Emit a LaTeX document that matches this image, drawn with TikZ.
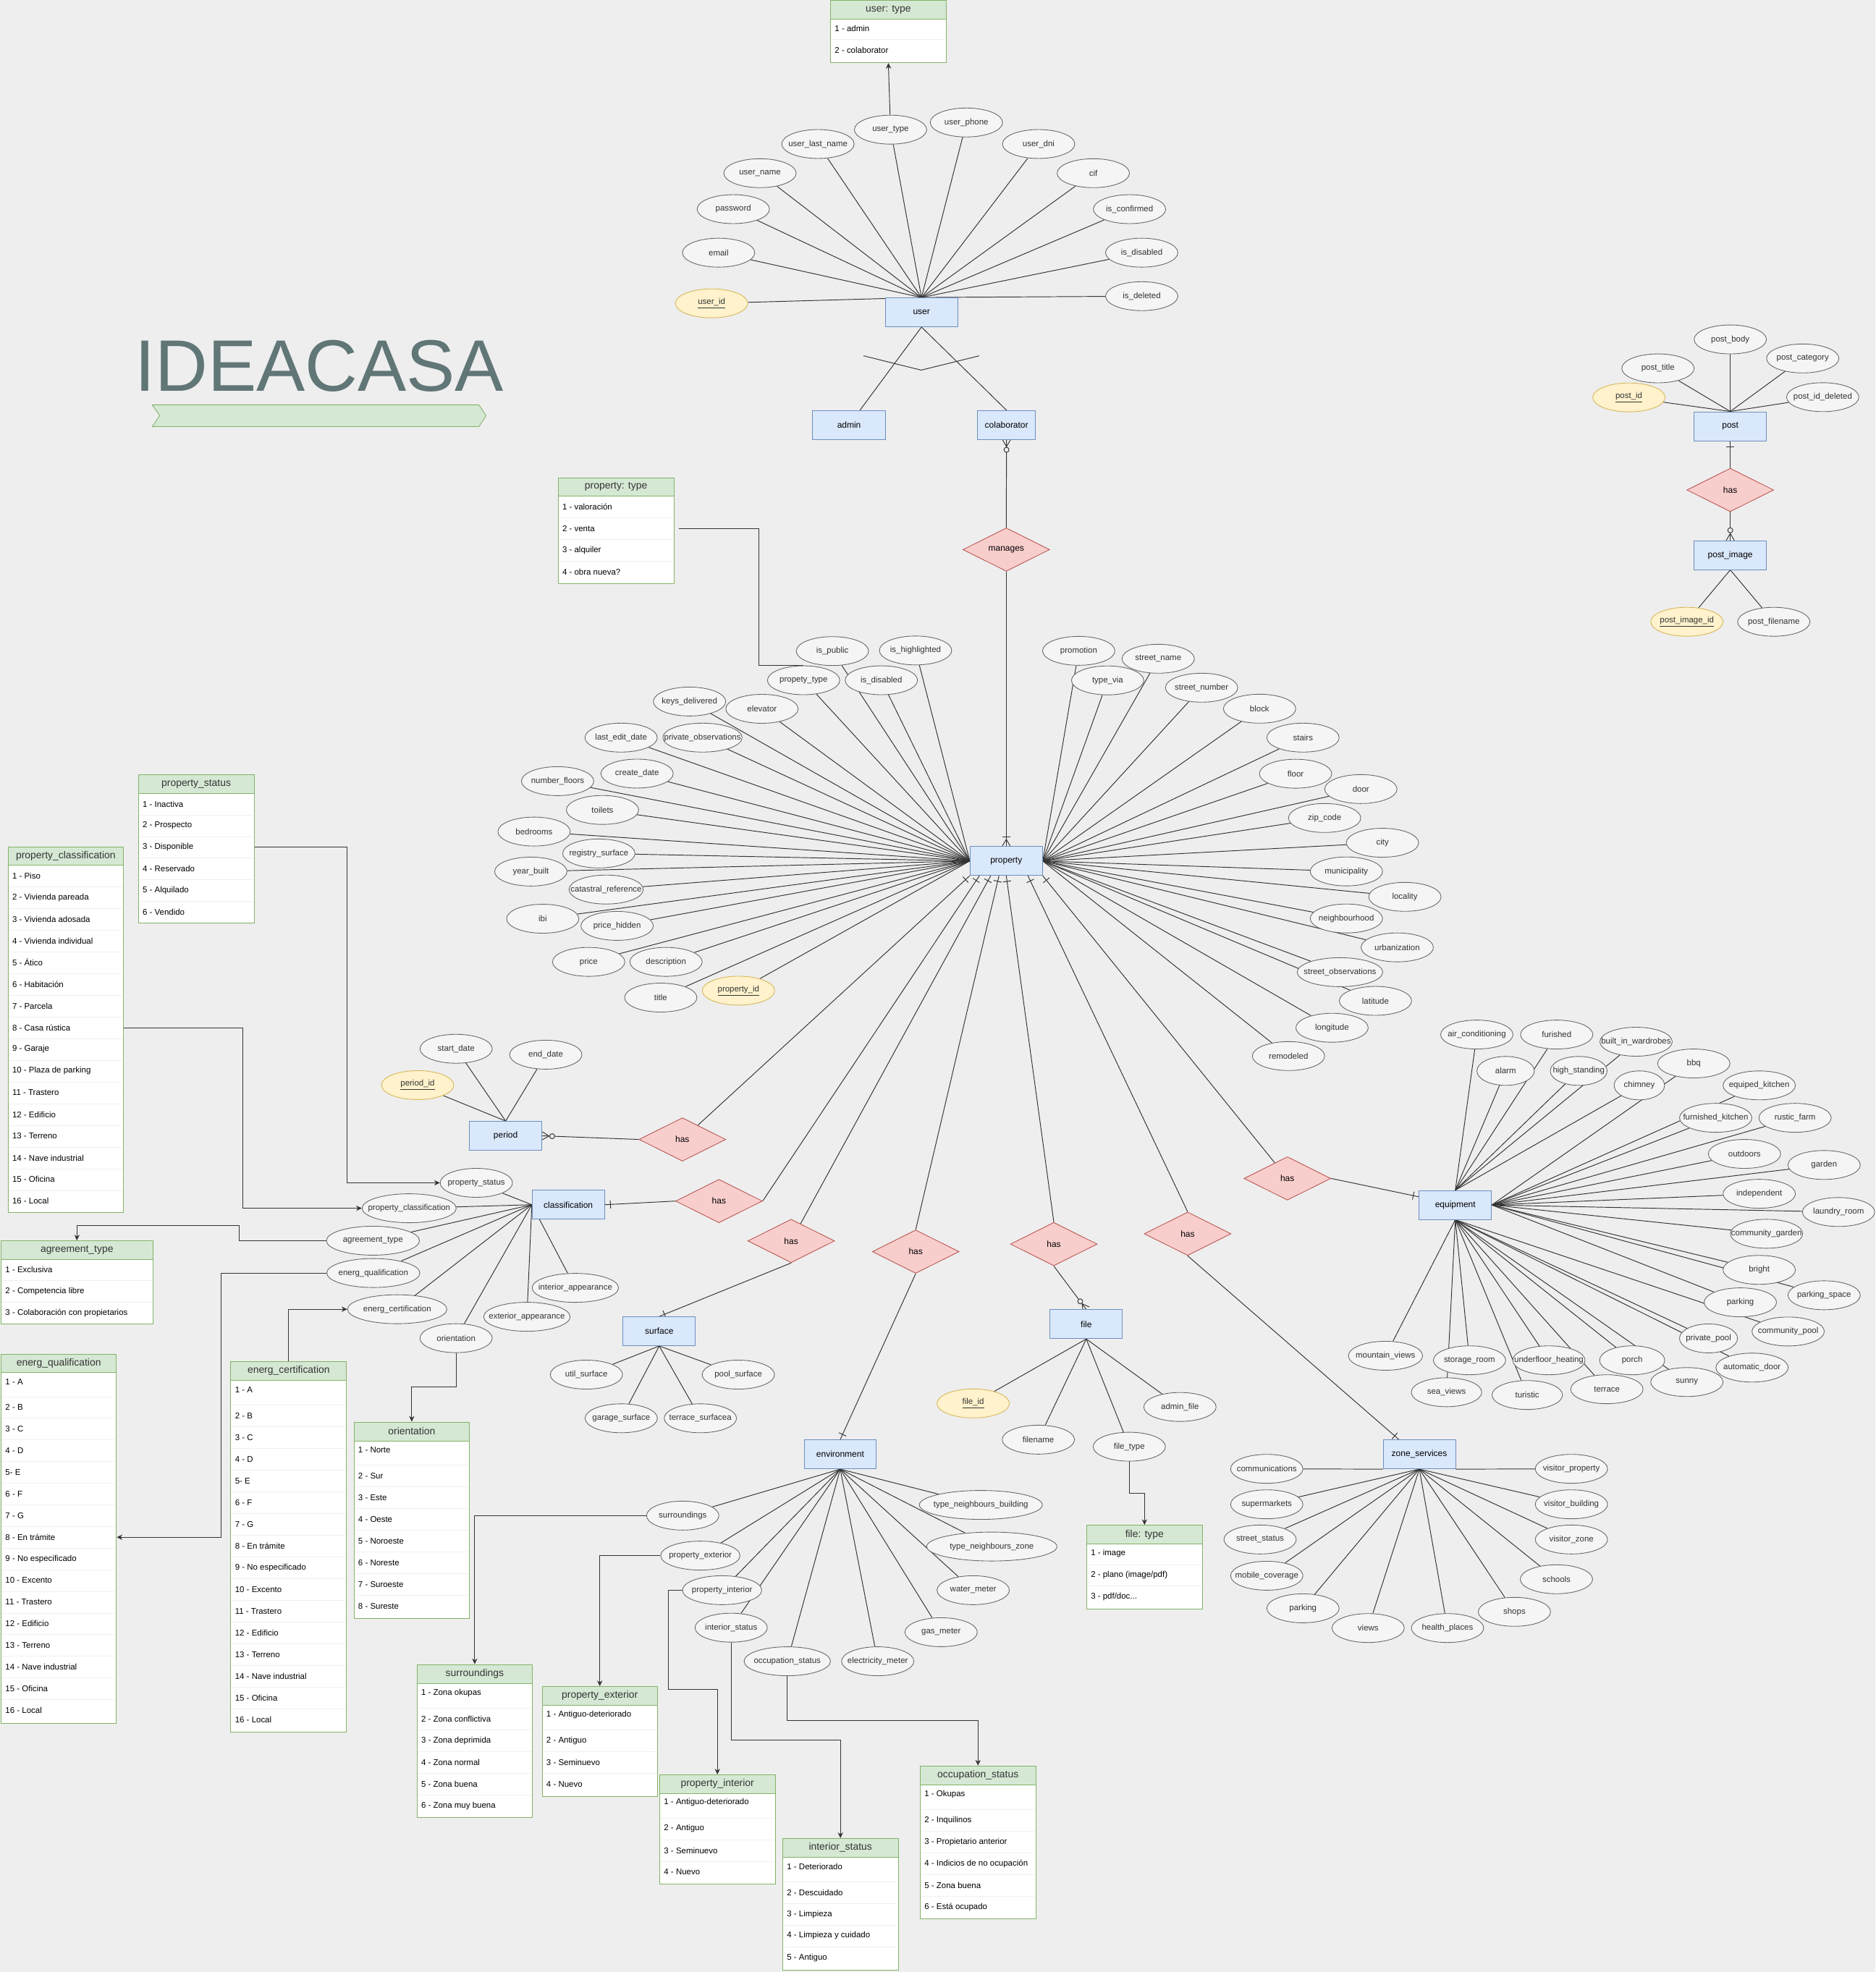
\documentclass[tikz,border=0pt]{standalone}
\usepackage{fontspec}
\setmainfont{Liberation Sans}
\usetikzlibrary{shapes.geometric,arrows.meta,decorations.markings}
\definecolor{bg}{HTML}{EEEEEE}
\definecolor{entf}{HTML}{DAE8FC}
\definecolor{entd}{HTML}{6C8EBF}
\definecolor{relf}{HTML}{F8CECC}
\definecolor{reld}{HTML}{B85450}
\definecolor{attf}{HTML}{F5F5F5}
\definecolor{attd}{HTML}{666666}
\definecolor{keyf}{HTML}{FFF2CC}
\definecolor{keyd}{HTML}{D6B656}
\definecolor{tabf}{HTML}{D5E8D4}
\definecolor{tabd}{HTML}{82B366}
\definecolor{titlec}{HTML}{617676}
\definecolor{txt}{HTML}{333333}
\definecolor{lnc}{HTML}{333333}
\pgfdeclarelayer{bgl}
\pgfdeclarelayer{edges}
\pgfsetlayers{bgl,edges,main}
\tikzset{
  attr/.style={ellipse, draw=attd, fill=attf, minimum height=23pt, inner sep=0pt, line width=0.5pt},
  kattr/.style={attr, draw=keyd, fill=keyf},
  atxt/.style={font=\fontsize{6.6}{7.5}\selectfont, text=txt, inner sep=0pt},
  ent/.style={rectangle, draw=entd, fill=entf, minimum width=57.5pt, minimum height=23pt, inner sep=0pt, font=\fontsize{6.9}{8}\selectfont, line width=0.5pt},
  rel/.style={diamond, draw=reld, fill=relf, minimum width=69pt, minimum height=34.5pt, inner sep=0pt, font=\fontsize{6.9}{8}\selectfont, line width=0.5pt},
  thead/.style={rectangle, draw=tabd, fill=tabf, inner sep=0pt, font=\fontsize{8}{9}\selectfont, text=txt, line width=0.5pt},
  tbody/.style={rectangle, draw=tabd, fill=white, inner sep=0pt, line width=0.5pt},
  trow/.style={inner sep=0pt, font=\fontsize{6.6}{7.5}\selectfont, text=black},
  tsep/.style={draw=black!6, line width=0.4pt},
  ln/.style={draw=lnc, line width=0.55pt},
  arr/.style={ln, -{Stealth[length=4.5pt,width=4.2pt]}},
  mk/.style={draw=lnc, line width=0.55pt},
  erone/.style={postaction={decorate,decoration={markings,
     mark=at position -4.5pt with {\draw[mk] (0pt,-3.2pt) -- (0pt,3.2pt);}}}},
  ermanyz/.style={postaction={decorate,decoration={markings,
     mark=at position -8pt with {\draw[mk,fill=bg] (0pt,0pt) circle (2pt);},
     mark=at position -0.01pt with {\draw[mk] (-5.5pt,0pt) -- (0pt,3.2pt) (-5.5pt,0pt) -- (0pt,-3.2pt);}}}},
  ermanyo/.style={postaction={decorate,decoration={markings,
     mark=at position -7.5pt with {\draw[mk] (0pt,-3.2pt) -- (0pt,3.2pt);},
     mark=at position -0.01pt with {\draw[mk] (-5.5pt,0pt) -- (0pt,3.2pt) (-5.5pt,0pt) -- (0pt,-3.2pt);}}}},
}
\newcommand\att[5][57.5]{\node[attr, minimum width=#1pt, label={[atxt]center:#5}] (#2) at (#3,#4) {};}
\newcommand\katt[5][57.5]{\node[kattr, minimum width=#1pt, label={[atxt]center:\underline{#5}}] (#2) at (#3,#4) {};}
\newcommand\dtable[7]{%
  \node[thead, anchor=north west, minimum width=#4pt, minimum height={(#5-#3)*1pt}] (#1-h) at (#2,#3) {#7};
  \node[tbody, anchor=north west, minimum width=#4pt, minimum height={(#6-#5)*1pt}] (#1-b) at (#2,#5) {};}
\newcommand\drows[4]{%
  \foreach[count=\i] \yy/\tx in {#4} {%
    \node[trow, anchor=west] (#1-\i) at (#2+3.5,\yy) {\tx};
    \ifnum\i>1 \draw[tsep] (#2+0.6,\yy-8.6) -- (#2+#3-0.6,\yy-8.6);\fi
  }}
\begin{document}
\begin{tikzpicture}[x=1pt,y=-1pt]
\useasboundingbox (0,0) rectangle (1491,1568);
\begin{pgfonlayer}{bgl}
\fill[bg] (0,0) rectangle (1491,1568);
\end{pgfonlayer}

% ---------- title ----------
\node[font=\fontsize{58}{60}\selectfont, text=titlec, anchor=base west, inner sep=0pt] (title) at (107.1,310.8) {IDEACASA};
\draw[draw=tabd, fill=tabf, line width=0.5pt] (121,321.9) -- (380.8,321.9) -- (386.4,330.5) -- (380.8,339.2) -- (121,339.2) -- (127,330.5) -- cycle;

% ---------- tables ----------
\dtable{ut}{660}{0}{92}{15.2}{49.6}{user: type}
\drows{ut}{660}{92}{22.8/{1 - admin}, 40/{2 - colaborator}}
\dtable{pt}{443.4}{379.5}{92.2}{394.4}{463.6}{property: type}
\drows{pt}{443.4}{92.2}{403.1/{1 - valoración}, 420.4/{2 - venta}, 437.6/{3 - alquiler}, 454.9/{4 - obra nueva?}}
\dtable{ps}{109.7}{615.9}{92.1}{630.7}{733.9}{property\_status}
\drows{ps}{109.7}{92.1}{639.3/{1 - Inactiva}, 656.5/{2 - Prospecto}, 673.7/{3 - Disponible}, 690.9/{4 - Reservado}, 708.1/{5 - Alquilado}, 725.3/{6 - Vendido}}
\dtable{pc}{6.1}{673}{91.9}{687.7}{963.7}{property\_classification}
\drows{pc}{6.1}{91.9}{696.3/{1 - Piso}, 713.6/{2 - Vivienda pareada}, 730.8/{3 - Vivienda adosada}, 748.1/{4 - Vivienda individual}, 765.3/{5 - Ático}, 782.6/{6 - Habitación}, 799.8/{7 - Parcela}, 817.1/{8 - Casa rústica}, 834.3/{9 - Garaje}, 851.6/{10 - Plaza de parking}, 868.8/{11 - Trastero}, 886.1/{12 - Edificio}, 903.3/{13 - Terreno}, 920.6/{14 - Nave industrial}, 937.8/{15 - Oficina}, 955.1/{16 - Local}}
\dtable{agt}{0.6}{986.3}{120.6}{1001.1}{1052.7}{agreement\_type}
\drows{agt}{0.6}{120.6}{1009.7/{1 - Exclusiva}, 1026.9/{2 - Competencia libre}, 1044.1/{3 - Colaboración con propietarios}}
\dtable{eq}{0.6}{1076.3}{91.7}{1091.1}{1370}{energ\_qualification}
\drows{eq}{0.6}{91.7}{1098.5/{1 - A}, 1119.1/{2 - B}, 1136.3/{3 - C}, 1153.5/{4 - D}, 1170.7/{5- E}, 1187.9/{6 - F}, 1205.1/{7 - G}, 1222.3/{8 - En trámite}, 1239.5/{9 - No especificado}, 1256.7/{10 - Excento}, 1273.9/{11 - Trastero}, 1291.1/{12 - Edificio}, 1308.3/{13 - Terreno}, 1325.5/{14 - Nave industrial}, 1342.7/{15 - Oficina}, 1359.9/{16 - Local}}
\dtable{ec}{183.2}{1082.3}{92.1}{1097.1}{1377.2}{energ\_certification}
\drows{ec}{183.2}{92.1}{1105.3/{1 - A}, 1125.9/{2 - B}, 1143.2/{3 - C}, 1160.4/{4 - D}, 1177.7/{5- E}, 1194.9/{6 - F}, 1212.2/{7 - G}, 1229.4/{8 - En trámite}, 1246.7/{9 - No especificado}, 1263.9/{10 - Excento}, 1281.2/{11 - Trastero}, 1298.5/{12 - Edificio}, 1315.7/{13 - Terreno}, 1333.0/{14 - Nave industrial}, 1350.2/{15 - Oficina}, 1367.5/{16 - Local}}
\dtable{ori}{281.1}{1130.4}{92}{1145.4}{1286.8}{orientation}
\drows{ori}{281.1}{92}{1153/{1 - Norte}, 1173.6/{2 - Sur}, 1190.9/{3 - Este}, 1208.1/{4 - Oeste}, 1225.4/{5 - Noroeste}, 1242.6/{6 - Noreste}, 1259.9/{7 - Suroeste}, 1277.2/{8 - Sureste}}
\dtable{su}{331.2}{1323.2}{91.9}{1338.2}{1445}{surroundings}
\drows{su}{331.2}{91.9}{1346/{1 - Zona okupas}, 1366.8/{2 - Zona conflictiva}, 1384/{3 - Zona deprimida}, 1401.3/{4 - Zona normal}, 1418.5/{5 - Zona buena}, 1435.8/{6 - Zona muy buena}}
\dtable{pe}{430.7}{1340.7}{91.8}{1355.4}{1428}{property\_exterior}
\drows{pe}{430.7}{91.8}{1363.3/{1 - Antiguo-deteriorado}, 1384/{2 - Antiguo}, 1401.3/{3 - Seminuevo}, 1418.5/{4 - Nuevo}}
\dtable{pi}{524.2}{1410.9}{91.8}{1425.7}{1498}{property\_interior}
\drows{pi}{524.2}{91.8}{1433.3/{1 - Antiguo-deteriorado}, 1454/{2 - Antiguo}, 1471.3/{3 - Seminuevo}, 1488.6/{4 - Nuevo}}
\dtable{ist}{622}{1461.5}{91.8}{1476.3}{1566.2}{interior\_status}
\drows{ist}{622}{91.8}{1484/{1 - Deteriorado}, 1504.7/{2 - Descuidado}, 1522/{3 - Limpieza}, 1539.2/{4 - Limpieza y cuidado}, 1556.5/{5 - Antiguo}}
\dtable{os}{731.3}{1403.8}{91.9}{1418.8}{1525.6}{occupation\_status}
\drows{os}{731.3}{91.9}{1426.6/{1 - Okupas}, 1447.3/{2 - Inquilinos}, 1464.6/{3 - Propietario anterior}, 1481.8/{4 - Indicios de no ocupación}, 1499.1/{5 - Zona buena}, 1516.4/{6 - Está ocupado}}
\dtable{ft}{863.6}{1212.5}{92.1}{1227.2}{1279.3}{file: type}
\drows{ft}{863.6}{92.1}{1235.4/{1 - image}, 1252.6/{2 - plano (image/pdf)}, 1269.8/{3 - pdf/doc...}}

% ---------- user ----------
\node[ent] (user) at (732.6,248.3) {user};
\node[ent, minimum width=57.8pt] (admin) at (675,337.9) {admin};
\node[ent, minimum width=46pt] (colab) at (800.2,337.9) {colaborator};
\att{a-email}{571.3}{200.9}{email}
\att{a-pass}{583}{166.3}{password}
\att{a-uname}{604.2}{137.7}{user\_name}
\att{a-ulast}{650.3}{114.5}{user\_last\_name}
\att{a-utype}{708}{103.1}{user\_type}
\att{a-uphone}{768.3}{97.4}{user\_phone}
\att{a-udni}{825.7}{114.5}{user\_dni}
\att{a-cif}{869.2}{137.7}{cif}
\att{a-iscon}{898}{166.3}{is\_confirmed}
\att{a-isdis}{907.7}{200.9}{is\_disabled}
\att{a-isdel}{907.7}{235.5}{is\_deleted}
\katt{k-uid}{565.7}{241.2}{user\_id}

% ---------- post ----------
\node[ent] (post) at (1375.6,338.9) {post};
\node[rel] (posthas) at (1375.6,389.6) {has};
\node[ent] (postimg) at (1375.6,441.4) {post\_image};
\att{a-pbody}{1375.6}{269.9}{post\_body}
\att{a-ptitle}{1318.1}{292.9}{post\_title}
\att{a-pcat}{1433.2}{285}{post\_category}
\katt{k-pid}{1295}{316}{post\_id}
\att{a-pdel}{1449.1}{315.8}{post\_id\_deleted}
\katt{k-piid}{1341.1}{494.4}{post\_image\_id}
\att{a-pfile}{1410.2}{494.4}{post\_filename}

% ---------- property ----------
\node[ent] (prop) at (800,684.6) {property};
\node[rel] (manages) at (800,437) {manages};
\att{p-ispub}{661.8}{517.7}{is\_public}
\att{p-ishigh}{727.9}{517.2}{is\_highlighted}
\att{p-ptype}{638.9}{540.9}{propety\_type}
\att{p-isdis}{700.7}{540.9}{is\_disabled}
\att{p-keys}{548.2}{557.8}{keys\_delivered}
\att{p-elev}{605.8}{563.6}{elevator}
\att{p-lastedit}{493.8}{586.5}{last\_edit\_date}
\att[63]{p-privobs}{558.5}{586.5}{private\_observations}
\att{p-create}{506.5}{615.1}{create\_date}
\att{p-nfloors}{443.3}{621.1}{number\_floors}
\att{p-toilets}{479}{644}{toilets}
\att{p-bedrooms}{424.6}{661.2}{bedrooms}
\att{p-regsurf}{476.1}{678.6}{registry\_surface}
\att{p-year}{422}{693}{year\_built}
\att[59]{p-catast}{481.9}{707.3}{catastral\_reference}
\att{p-ibi}{431.5}{730.5}{ibi}
\att{p-phidden}{490.6}{736.2}{price\_hidden}
\att{p-price}{468}{764.8}{price}
\att{p-desc}{529.5}{764.8}{description}
\att{p-title}{525.3}{793.2}{title}
\katt{k-propid}{587.1}{787.7}{property\_id}
\att{p-promo}{857.6}{517.5}{promotion}
\att{p-stname}{920.8}{523.8}{street\_name}
\att{p-tvia}{880.6}{541}{type\_via}
\att{p-stnum}{955.3}{546.8}{street\_number}
\att{p-block}{1001.4}{563.5}{block}
\att{p-stairs}{1035.9}{586.5}{stairs}
\att{p-floor}{1030}{615.2}{floor}
\att{p-door}{1081.9}{627.4}{door}
\att{p-zip}{1053.1}{650.4}{zip\_code}
\att{p-city}{1099.1}{670.1}{city}
\att{p-muni}{1070.4}{692.9}{municipality}
\att{p-local}{1116.9}{713.1}{locality}
\att{p-neigh}{1070.4}{730.3}{neighbourhood}
\att{p-urban}{1110.8}{753.3}{urbanization}
\att[68]{p-stobs}{1065.3}{773}{street\_observations}
\att{p-lat}{1093.5}{795.8}{latitude}
\att{p-lon}{1059}{817.2}{longitude}
\att{p-remod}{1024.4}{839.7}{remodeled}

% ---------- period ----------
\node[ent] (period) at (402,903.1) {period};
\node[rel] (has1) at (542.5,906) {has};
\att{a-start}{362.6}{833.9}{start\_date}
\att{a-end}{433.9}{838.6}{end\_date}
\katt{k-perid}{332}{862.8}{period\_id}

% ---------- classification ----------
\node[ent] (classif) at (451.8,957.9) {classification};
\node[rel] (has2) at (571.6,955) {has};
\att{c-pstatus}{378.7}{940.5}{property\_status}
\att[74.8]{c-pclass}{325.3}{960.7}{property\_classification}
\att[74]{c-agree}{296.5}{986.5}{agreement\_type}
\att[74]{c-energq}{296.8}{1012.2}{energ\_qualification}
\att[79]{c-energc}{315.8}{1041}{energ\_certification}
\att{c-orient}{362.6}{1064}{orientation}
\att[68.7]{c-intapp}{457.4}{1024}{interior\_appearance}
\att[68.7]{c-extapp}{418.9}{1047}{exterior\_appearance}

% ---------- surface ----------
\node[ent] (surface) at (524.1,1058.5) {surface};
\node[rel] (has3) at (629,986.7) {has};
\att{s-util}{466.2}{1093}{util\_surface}
\att{s-pool}{587}{1093}{pool\_surface}
\att{s-garage}{493.9}{1127.7}{garage\_surface}
\att{s-terrace}{556.8}{1127.7}{terrace\_surfacea}

% ---------- environment ----------
\node[ent] (env) at (668,1156.4) {environment};
\node[rel] (has4) at (728,995.2) {has};
\att{e-surr}{542.8}{1205.1}{surroundings}
\att[97.8]{e-tnb}{779.8}{1196.6}{type\_neighbours\_building}
\att[103.6]{e-tnz}{788.5}{1229.7}{type\_neighbours\_zone}
\att[63]{e-pext}{556.8}{1236.9}{property\_exterior}
\att[63]{e-pint}{574.1}{1264.4}{property\_interior}
\att{e-water}{773.7}{1264.4}{water\_meter}
\att{e-intst}{581.3}{1294.2}{interior\_status}
\att{e-gas}{748.2}{1297.8}{gas\_meter}
\att[68.7]{e-occ}{625.9}{1320.9}{occupation\_status}
\att{e-elec}{697.8}{1320.9}{electricity\_meter}

% ---------- file ----------
\node[ent] (file) at (863.6,1052.9) {file};
\node[rel] (has5) at (837.8,989.2) {has};
\katt{k-fileid}{773.7}{1115.9}{file\_id}
\att{f-fname}{825.5}{1144.7}{filename}
\att{f-ftype}{897.8}{1150.3}{file\_type}
\att{f-admin}{938.1}{1118.7}{admin\_file}

% ---------- zone services ----------
\node[ent] (zone) at (1128.4,1156.4) {zone\_services};
\node[rel] (has6) at (944.2,981) {has};
\att{z-comm}{1007.1}{1167.9}{communications}
\att{z-vprop}{1249.3}{1167.9}{visitor\_property}
\att{z-super}{1007.1}{1196.1}{supermarkets}
\att{z-vbuild}{1249.3}{1196.1}{visitor\_building}
\att{z-street}{1001.8}{1224.1}{street\_status}
\att{z-vzone}{1249.3}{1224.1}{visitor\_zone}
\att{z-mobile}{1007.1}{1252.9}{mobile\_coverage}
\att{z-schools}{1237.4}{1255.7}{schools}
\att{z-parking}{1035.9}{1278.8}{parking}
\att{z-shops}{1204}{1281.6}{shops}
\att{z-views}{1087.7}{1294.5}{views}
\att{z-health}{1150.8}{1294.5}{health\_places}

% ---------- equipment ----------
\node[ent] (equip) at (1157,958.1) {equipment};
\node[rel] (has7) at (1023.5,937) {has};
\att{q-air}{1174.1}{822.6}{air\_conditioning}
\att{q-furn}{1237.6}{822.6}{furished}
\att{q-built}{1300.7}{828.3}{built\_in\_wardrobes}
\att[45.6]{q-alarm}{1197}{851.5}{alarm}
\att[45.2]{q-high}{1255.1}{851.5}{high\_standing}
\att{q-bbq}{1346.6}{845.6}{bbq}
\att[40.1]{q-chim}{1303.3}{863}{chimney}
\att{q-eqk}{1398.6}{863}{equiped\_kitchen}
\att{q-fk}{1364}{888.8}{furnished\_kitchen}
\att{q-rustic}{1427.1}{888.8}{rustic\_farm}
\att{q-out}{1386.9}{917.5}{outdoors}
\att{q-garden}{1450.2}{926.3}{garden}
\att{q-indep}{1398.6}{949.2}{independent}
\att{q-laundry}{1461.7}{963.7}{laundry\_room}
\att{q-cgarden}{1404.4}{981}{community\_garden}
\att{q-bright}{1398.6}{1009.7}{bright}
\att{q-pspace}{1450.2}{1029.9}{parking\_space}
\att{q-parking}{1383.6}{1035.5}{parking}
\att{q-cpool}{1421.6}{1058.7}{community\_pool}
\att[46.1]{q-ppool}{1358.3}{1064.2}{private\_pool}
\att{q-auto}{1392.9}{1087.4}{automatic\_door}
\att{q-sunny}{1341.1}{1098.9}{sunny}
\att[51.8]{q-porch}{1297.6}{1081.6}{porch}
\att{q-terrace}{1277.5}{1104.6}{terrace}
\att{q-under}{1231.4}{1081.6}{underfloor\_heating}
\att[56]{q-turistic}{1214.2}{1109.2}{turistic}
\att{q-storage}{1168.3}{1081.6}{storage\_room}
\att[56]{q-sea}{1150}{1107}{sea\_views}
\att[59]{q-mount}{1101.5}{1078}{mountain\_views}

% ---------- edges ----------
\begin{pgfonlayer}{edges}
\foreach \n in {a-email,a-pass,a-uname,a-ulast,a-utype,a-uphone,a-udni,a-cif,a-iscon,a-isdis,a-isdel,k-uid}
  \draw[ln] (\n) -- (user.north);
\draw[arr] (a-utype) -- (ut-b.south);
\draw[ln] (user.south) -- ([xshift=8.7pt]admin.north);
\draw[ln] (user.south) -- (colab.north);
\draw[ln] (686.5,282.9) -- (732.3,294.3) -- (778.6,282.9);
\draw[ln,ermanyz] (manages.north) -- (colab.south);
\draw[ln,ermanyo] (manages.south) -- (prop.north);

\foreach \n in {a-pbody,a-ptitle,a-pcat,k-pid,a-pdel}
  \draw[ln] (\n) -- (post.north);
\draw[ln,erone] (posthas.north) -- (post.south);
\draw[ln,ermanyz] (posthas.south) -- (postimg.north);
\draw[ln] (k-piid) -- (postimg.south);
\draw[ln] (a-pfile) -- (postimg.south);

\foreach \n in {p-ispub,p-ishigh,p-ptype,p-isdis,p-keys,p-elev,p-lastedit,p-privobs,p-create,p-nfloors,p-toilets,p-bedrooms,p-regsurf,p-year,p-catast,p-ibi,p-phidden,p-price,p-desc,p-title,k-propid}
  \draw[ln] (\n) -- (prop.west);
\foreach \n in {p-promo,p-stname,p-tvia,p-stnum,p-block,p-stairs,p-floor,p-door,p-zip,p-city,p-muni,p-local,p-neigh,p-urban,p-stobs,p-lat,p-lon,p-remod}
  \draw[ln] (\n) -- (prop.east);
\draw[ln] (540,420.4) -- (603.2,420.4) |- (p-ptype.north);

% relations to property
\draw[ln,erone] (has1) -- (prop.south west);
\draw[ln,ermanyz] (has1.west) -- (period.east);
\draw[ln,erone] (has2.east) -- ([xshift=7.6pt]prop.south west);
\draw[ln,erone] (has2.west) -- (classif.east);
\draw[ln,erone] (has3) -- ([xshift=16.6pt]prop.south west);
\draw[ln,erone] (has3.south) -- (surface.north);
\draw[ln,erone] (has4.north) -- ([xshift=-5.8pt]prop.south);
\draw[ln,erone] (has4.south) -- (env.north);
\draw[ln,erone] (has5.north) -- (prop.south);
\draw[ln,ermanyz] (has5.south) -- (file.north);
\draw[ln,erone] (has6.north) -- ([xshift=17.2pt]prop.south);
\draw[ln,erone] (has6.south) -- ([xshift=-16.2pt]zone.north);
\draw[ln,erone] (has7) -- (prop.south east);
\draw[ln,erone] (has7.east) -- ([yshift=6.5pt]equip.west);

% period
\foreach \n in {a-start,a-end,k-perid}
  \draw[ln] (\n) -- (period.north);
% classification
\foreach \n in {c-pstatus,c-pclass,c-agree,c-energq,c-energc,c-orient,c-intapp,c-extapp}
  \draw[ln] (\n) -- (classif.west);
\draw[arr] (ps-b.east |- ps-3) -- (276,673.7) |- (c-pstatus.west);
\draw[arr] (pc-b.east |- pc-8) -- (193.1,817.1) |- (c-pclass.west);
\draw[arr] (c-agree.west) -| (190,974.5) -| (agt-h.north);
\draw[arr] (c-energq.west) -- (175.7,1012.2) |- (eq-b.east |- eq-8);
\draw[arr] (ec-h.north) |- (c-energc.west);
\draw[arr] (c-orient.south) -- (362.6,1102.9) -| (ori-h.north);
% surface
\foreach \n in {s-util,s-pool,s-garage,s-terrace}
  \draw[ln] (\n) -- (surface.south);
% environment
\foreach \n in {e-surr,e-tnb,e-tnz,e-pext,e-pint,e-water,e-intst,e-gas,e-occ,e-elec}
  \draw[ln] (\n) -- (env.south);
\draw[arr] (e-surr.west) -| (su-h.north);
\draw[arr] (e-pext.west) -| (pe-h.north);
\draw[arr] (e-pint.west) -| (531.3,1343.2) -| (pi-h.north);
\draw[arr] (e-intst.south) -- (581.3,1383.8) -| (ist-h.north);
\draw[arr] (e-occ.south) -- (625.9,1368.1) -| (os-h.north);
% file
\foreach \n in {k-fileid,f-fname,f-ftype,f-admin}
  \draw[ln] (\n) -- (file.south);
\draw[arr] (f-ftype.south) -- (897.8,1187.1) -| (ft-h.north);
% zone
\draw[ln] (z-comm) -- (zone.south west);
\draw[ln] (z-vprop) -- (zone.south east);
\foreach \n in {z-super,z-vbuild,z-street,z-vzone,z-mobile,z-schools,z-parking,z-shops,z-views,z-health}
  \draw[ln] (\n) -- (zone.south);
% equipment
\foreach \n in {q-air,q-furn,q-built,q-alarm,q-high,q-chim}
  \draw[ln] (\n) -- (equip.north);
\foreach \n in {q-bbq,q-eqk,q-fk,q-rustic,q-out,q-garden,q-indep,q-laundry,q-cgarden,q-bright,q-pspace,q-parking}
  \draw[ln] (\n) -- (equip.east);
\foreach \n in {q-cpool,q-ppool,q-auto,q-sunny,q-porch,q-terrace,q-under,q-turistic,q-storage,q-sea,q-mount}
  \draw[ln] (\n) -- (equip.south);
\end{pgfonlayer}
\end{tikzpicture}
\end{document}
